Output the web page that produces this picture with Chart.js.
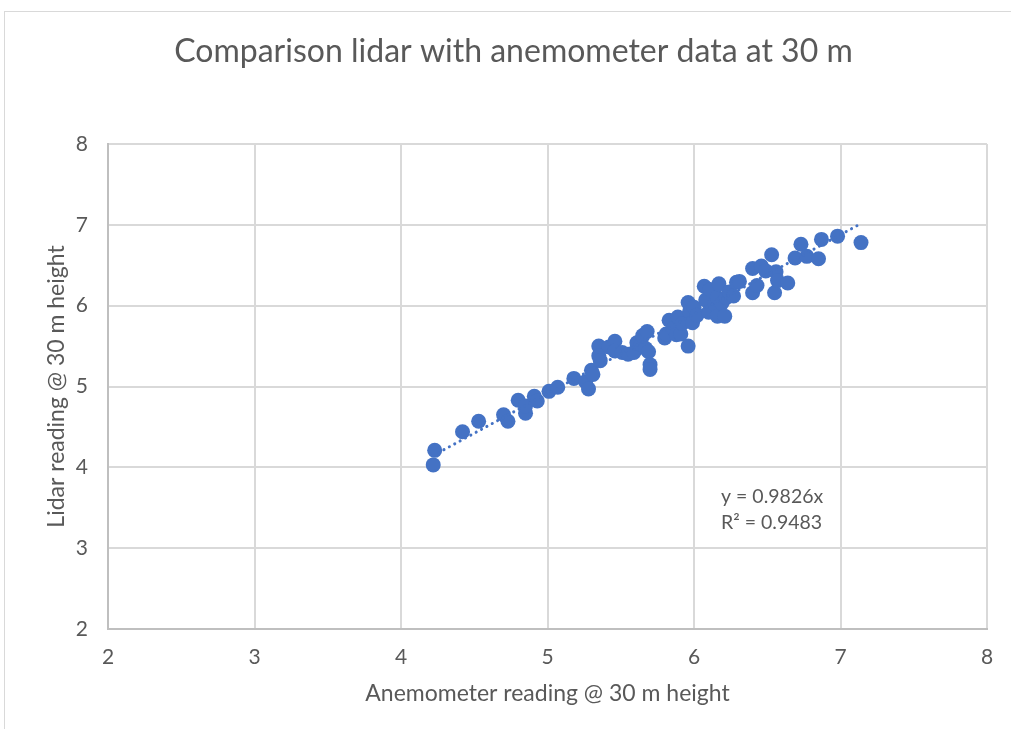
<!DOCTYPE html>
<html>
<head>
<meta charset="utf-8">
<title>Comparison lidar with anemometer data at 30 m</title>
<script src="https://cdn.jsdelivr.net/npm/chart.js"></script>
<style>
  html, body { margin: 0; padding: 0; background: #fff; }
  #wrap { position: relative; width: 1011px; height: 729px; overflow: hidden; }
  #frame {
    position: absolute; left: 4px; top: 11px; width: 1040px; height: 760px;
    border: 1px solid #d9d9d9; box-sizing: border-box;
  }
  #scatter { position: absolute; left: 0; top: 0; }
</style>
</head>
<body>
<div id="wrap">
  <div id="frame"></div>
  <canvas id="scatter" width="1011" height="729"></canvas>
</div>
<script>
// wind speed pairs, anemometer vs lidar (m/s)
var anemometer = [
  4.22, 4.23, 4.42, 4.53, 4.70, 4.73, 4.80, 4.85, 4.85, 4.91,
  4.93, 5.01, 5.07, 5.18, 5.26, 5.28, 5.30, 5.31, 5.35, 5.35,
  5.36, 5.42, 5.46, 5.46, 5.51, 5.55, 5.59, 5.61, 5.64, 5.65,
  5.67, 5.68, 5.69, 5.70, 5.70, 5.80, 5.81, 5.83, 5.86, 5.88,
  5.89, 5.91, 5.92, 5.96, 5.96, 5.97, 5.99, 6.00, 6.02, 6.07,
  6.08, 6.10, 6.11, 6.14, 6.16, 6.16, 6.17, 6.19, 6.21, 6.22,
  6.24, 6.27, 6.29, 6.31, 6.40, 6.40, 6.43, 6.46, 6.49, 6.53,
  6.55, 6.56, 6.57, 6.64, 6.69, 6.73, 6.77, 6.85, 6.87, 6.98,
  7.14
];
var lidar = [
  4.03, 4.21, 4.44, 4.57, 4.65, 4.57, 4.83, 4.67, 4.76, 4.88,
  4.82, 4.94, 4.99, 5.10, 5.06, 4.97, 5.20, 5.15, 5.50, 5.38,
  5.32, 5.49, 5.56, 5.44, 5.42, 5.40, 5.42, 5.54, 5.52, 5.63,
  5.47, 5.68, 5.43, 5.27, 5.21, 5.60, 5.65, 5.82, 5.72, 5.64,
  5.86, 5.65, 5.78, 5.50, 6.04, 5.93, 5.79, 5.98, 5.88, 6.24,
  6.07, 5.92, 6.20, 6.02, 5.87, 6.10, 6.27, 6.03, 5.87, 6.10,
  6.17, 6.12, 6.29, 6.30, 6.46, 6.16, 6.25, 6.49, 6.43, 6.63,
  6.16, 6.42, 6.31, 6.28, 6.59, 6.76, 6.61, 6.58, 6.82, 6.86,
  6.78
];

// linear fit through the origin
var slope = 0.9826;
var rSquared = 0.9483;
var axisMin = 2;
var axisMax = 8;

var blue = '#4472C4';
var textGray = '#595959';

var points = anemometer.map(function (x, i) { return { x: x, y: lidar[i] }; });
var xFirst = Math.min.apply(null, anemometer);
var xLast = Math.max.apply(null, anemometer);
var trend = [
  { x: xFirst, y: slope * xFirst },
  { x: xLast, y: slope * xLast }
];

// equation label in the lower right of the plot
var equationLabel = {
  id: 'equationLabel',
  afterDatasetsDraw: function (chart) {
    var ctx = chart.ctx;
    ctx.save();
    ctx.fillStyle = textGray;
    ctx.font = '19.5px Lato';
    ctx.textAlign = 'left';
    ctx.textBaseline = 'middle';
    ctx.fillText('y = ' + slope + 'x', 721, 497);
    ctx.fillText('R\u00B2 = ' + rSquared, 721, 523);
    ctx.restore();
  }
};

var ctx = document.getElementById('scatter');
new Chart(ctx, {
  type: 'scatter',
  data: {
    datasets: [{
      label: 'Lidar',
      data: points,
      backgroundColor: blue,
      borderColor: blue,
      pointRadius: 7.5,
      pointHoverRadius: 7.5,
      borderWidth: 0,
      order: 2
    }, {
      type: 'line',
      label: 'Linear fit',
      data: trend,
      borderColor: blue,
      borderWidth: 3,
      borderDash: [0.1, 6],
      borderCapStyle: 'round',
      pointRadius: 0,
      fill: false,
      order: 1
    }]
  },
  options: {
    responsive: false,
    animation: false,
    layout: { padding: { left: 40, right: 24, top: 0, bottom: 0 } },
    plugins: {
      legend: { display: false },
      tooltip: { enabled: false },
      title: {
        display: true,
        text: 'Comparison lidar with anemometer data at 30 m',
        color: textGray,
        font: { family: 'Lato', size: 32, weight: 'normal' },
        padding: { top: 32, bottom: 73.6 }
      }
    },
    scales: {
      x: {
        type: 'linear',
        min: axisMin,
        max: axisMax,
        ticks: { stepSize: 1, padding: 16, color: textGray, font: { family: 'Lato', size: 21 } },
        grid: { color: '#d9d9d9', lineWidth: 2, drawTicks: false },
        border: { color: '#bfbfbf', width: 2 },
        title: {
          display: true,
          text: 'Anemometer reading @ 30 m height',
          color: textGray,
          font: { family: 'Lato', size: 23 },
          padding: { top: 0, bottom: 22 }
        },
        afterFit: function (scale) { scale.height = 100; }
      },
      y: {
        type: 'linear',
        min: axisMin,
        max: axisMax,
        ticks: { stepSize: 1, padding: 20, color: textGray, font: { family: 'Lato', size: 21 } },
        grid: { color: '#d9d9d9', lineWidth: 2, drawTicks: false },
        border: { color: '#bfbfbf', width: 2 },
        title: {
          display: true,
          text: 'Lidar reading @ 30 m height',
          color: textGray,
          font: { family: 'Lato', size: 23 },
          padding: { top: 3, bottom: 0 }
        },
        afterFit: function (scale) { scale.width = 68; }
      }
    }
  },
  plugins: [equationLabel]
});
</script>
</body>
</html>
